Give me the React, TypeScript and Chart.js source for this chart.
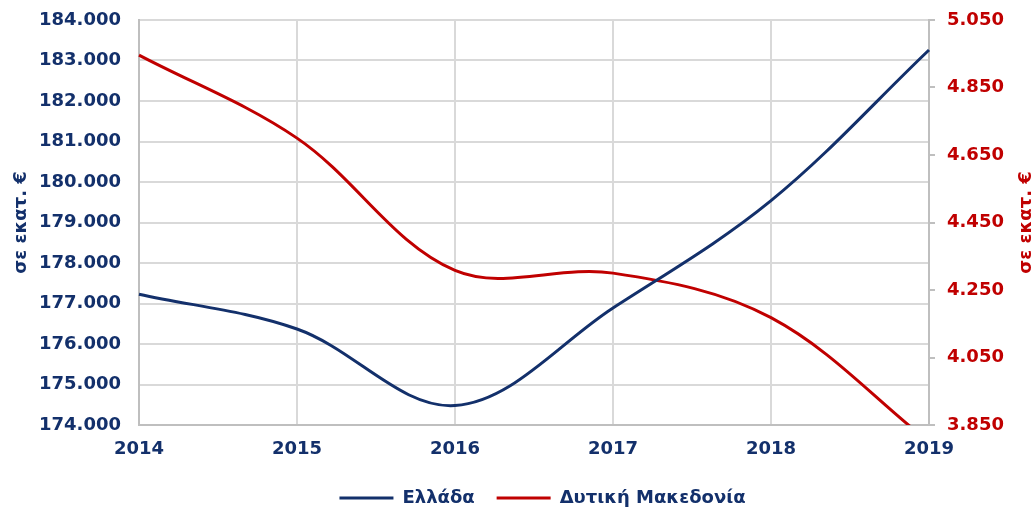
import { useEffect, useRef } from 'react';
import { Chart, registerables } from 'chart.js';

Chart.register(...registerables);

const years = ['2014', '2015', '2016', '2017', '2018', '2019'];
const greeceValues = [177230, 176370, 174480, 176890, 179540, 183260];
const westMacedoniaValues = [4946, 4700, 4308, 4300, 4168, 3800];
const leftTicks = [174000, 175000, 176000, 177000, 178000, 179000, 180000, 181000, 182000, 183000, 184000];
const rightTicks = [3850, 4050, 4250, 4450, 4650, 4850, 5050];
const seriesNames = ['Ελλάδα', 'Δυτική Μακεδονία'];
const axisTitle = 'σε εκατ. €';

const NAVY = '#13306b';
const RED = '#c00000';
const GRID = '#d9d9d9';
const BORDER = '#bfbfbf';
const FAMILY = '"DejaVu Sans", Verdana, sans-serif';

const fmt = (v: number | string) => Number(v).toLocaleString('de-DE');

const titlesPlugin = {
  id: 'axisTitles',
  afterDraw(chart: any) {
    const ctx = chart.ctx;
    const area = chart.chartArea;
    const cy = (area.top + area.bottom) / 2;
    ctx.save();
    ctx.font = `bold 18px ${FAMILY}`;
    ctx.textAlign = 'center';
    ctx.textBaseline = 'middle';
    ctx.fillStyle = NAVY;
    ctx.translate(21, cy);
    ctx.rotate(-Math.PI / 2);
    ctx.fillText(axisTitle, 0, 0);
    ctx.restore();
    ctx.save();
    ctx.font = `bold 18px ${FAMILY}`;
    ctx.textAlign = 'center';
    ctx.textBaseline = 'middle';
    ctx.fillStyle = RED;
    ctx.translate(1026, cy);
    ctx.rotate(-Math.PI / 2);
    ctx.fillText(axisTitle, 0, 0);
    ctx.restore();
  },
};

const RIGHT_PAD = -49;

export default function App() {
  const ref = useRef<HTMLCanvasElement | null>(null);
  useEffect(() => {
    if (!ref.current) return;
    const chart = new Chart(ref.current, {
      type: 'line',
      data: {
        labels: years,
        datasets: [
          {
            label: seriesNames[0],
            data: greeceValues,
            borderColor: NAVY,
            backgroundColor: NAVY,
            borderWidth: 3,
            pointRadius: 0,
            tension: 0.35,
            yAxisID: 'y',
          },
          {
            label: seriesNames[1],
            data: westMacedoniaValues,
            borderColor: RED,
            backgroundColor: RED,
            borderWidth: 3,
            pointRadius: 0,
            tension: 0.35,
            yAxisID: 'y1',
          },
        ],
      },
      options: {
        animation: false,
        responsive: true,
        maintainAspectRatio: false,
        layout: { padding: { top: 20, left: 0, right: RIGHT_PAD, bottom: -4 } },
        plugins: {
          tooltip: { enabled: false },
          legend: {
            position: 'bottom',
            labels: {
              usePointStyle: true,
              pointStyle: 'line',
              pointStyleWidth: 54,
              color: NAVY,
              padding: 22,
              font: { family: FAMILY, size: 18, weight: 'bold' },
            },
          },
        },
        scales: {
          x: {
            type: 'category',
            offset: false,
            grid: { color: GRID, lineWidth: 2, drawTicks: false },
            border: { color: BORDER, width: 2 },
            ticks: {
              color: NAVY,
              padding: 14,
              maxRotation: 0,
              autoSkip: false,
              font: { family: FAMILY, size: 18, weight: 'bold' },
            },
            afterFit: (s: any) => {
              s.height = 42;
              s.paddingLeft = 0;
              s.paddingRight = 0;
            },
          },
          y: {
            position: 'left',
            min: 174000,
            max: 184000,
            afterBuildTicks: (s: any) => {
              s.ticks = leftTicks.map((v) => ({ value: v }));
            },
            afterFit: (s: any) => {
              s.width = 139;
              s.paddingTop = 0;
              s.paddingBottom = 0;
            },
            grid: { color: GRID, lineWidth: 2, drawTicks: false },
            border: { color: BORDER, width: 2 },
            ticks: {
              color: NAVY,
              padding: 18,
              callback: (v: any) => fmt(v),
              font: { family: FAMILY, size: 18, weight: 'bold' },
            },
          },
          y1: {
            position: 'right',
            min: 3850,
            max: 5050,
            afterBuildTicks: (s: any) => {
              s.ticks = rightTicks.map((v) => ({ value: v }));
            },
            afterFit: (s: any) => {
              s.width = 107 - RIGHT_PAD;
              s.paddingTop = 0;
              s.paddingBottom = 0;
            },
            grid: { drawOnChartArea: false, drawTicks: true, tickLength: 6, color: BORDER, lineWidth: 2 },
            border: { color: BORDER, width: 2 },
            ticks: {
              color: RED,
              padding: 12,
              callback: (v: any) => fmt(v),
              font: { family: FAMILY, size: 18, weight: 'bold' },
            },
          },
        },
      },
      plugins: [titlesPlugin],
    } as any);
    return () => chart.destroy();
  }, []);
  return (
    <div style={{ position: 'fixed', left: 0, top: 0, width: 1036, height: 513, background: '#fff' }}>
      <canvas ref={ref} />
    </div>
  );
}
